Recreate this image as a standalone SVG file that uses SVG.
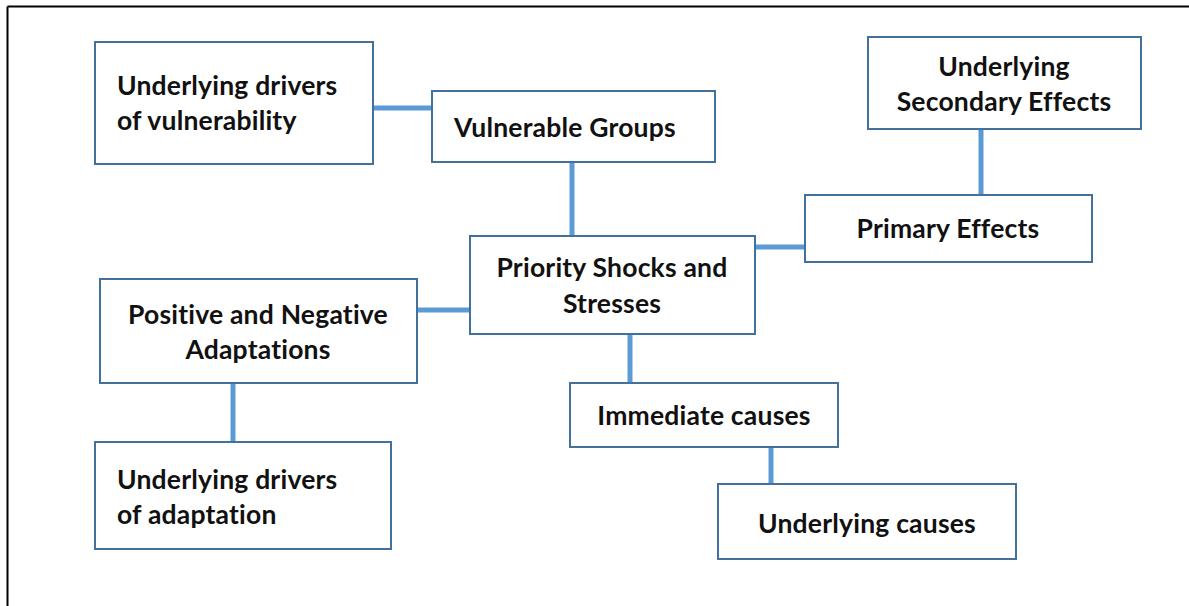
<svg xmlns="http://www.w3.org/2000/svg" width="1189" height="606" viewBox="0 0 1189 606">
<style>
.box{fill:#fff;stroke:#41719C;stroke-width:2}
.t{font-family:Lato,"Liberation Sans",sans-serif;font-weight:bold;font-size:26.5px;letter-spacing:0.2px;fill:#111}
.c{text-anchor:middle}
.conn line{stroke:#5B9BD5;stroke-width:5}
</style>
<rect width="1189" height="606" fill="#fff"/>
<g id="frame" fill="none" stroke="#000" stroke-width="2">
<line x1="7.5" y1="6.5" x2="1189" y2="6.5"/>
<line x1="7.5" y1="6.5" x2="7.5" y2="606"/>
</g>
<g id="connectors" class="conn">
<line x1="373" y1="108" x2="432" y2="108"/>
<line x1="572" y1="162" x2="572" y2="236"/>
<line x1="981" y1="129" x2="981" y2="195"/>
<line x1="755" y1="247" x2="806" y2="247"/>
<line x1="418" y1="310" x2="470" y2="310"/>
<line x1="233" y1="383" x2="233" y2="443"/>
<line x1="630" y1="334" x2="630" y2="383"/>
<line x1="771" y1="447" x2="771" y2="485"/>
</g>
<g id="drivers-vulnerability">
<rect class="box" x="95" y="42" width="278" height="122"/>
<text class="t" x="117" y="95">Underlying drivers</text>
<text class="t" x="117" y="130">of vulnerability</text>
</g>
<g id="vulnerable-groups">
<rect class="box" x="432" y="91" width="283" height="71"/>
<text class="t" x="454" y="137">Vulnerable Groups</text>
</g>
<g id="secondary-effects">
<rect class="box" x="868" y="37" width="273" height="92"/>
<text class="t c" x="1004" y="76">Underlying</text>
<text class="t c" x="1004" y="111">Secondary Effects</text>
</g>
<g id="primary-effects">
<rect class="box" x="805" y="195" width="287" height="67"/>
<text class="t c" x="948" y="238">Primary Effects</text>
</g>
<g id="priority-shocks">
<rect class="box" x="470" y="236" width="285" height="98"/>
<text class="t c" x="612" y="277">Priority Shocks and</text>
<text class="t c" x="612" y="313">Stresses</text>
</g>
<g id="adaptations">
<rect class="box" x="100" y="279" width="317" height="104"/>
<text class="t c" x="258" y="324">Positive and Negative</text>
<text class="t c" x="258" y="359">Adaptations</text>
</g>
<g id="drivers-adaptation">
<rect class="box" x="95" y="442" width="296" height="107"/>
<text class="t" x="117" y="489">Underlying drivers</text>
<text class="t" x="117" y="524">of adaptation</text>
</g>
<g id="immediate-causes">
<rect class="box" x="570" y="383" width="268" height="64"/>
<text class="t c" x="704" y="425">Immediate causes</text>
</g>
<g id="underlying-causes">
<rect class="box" x="718" y="484" width="298" height="75"/>
<text class="t c" x="867" y="533">Underlying causes</text>
</g>
</svg>
